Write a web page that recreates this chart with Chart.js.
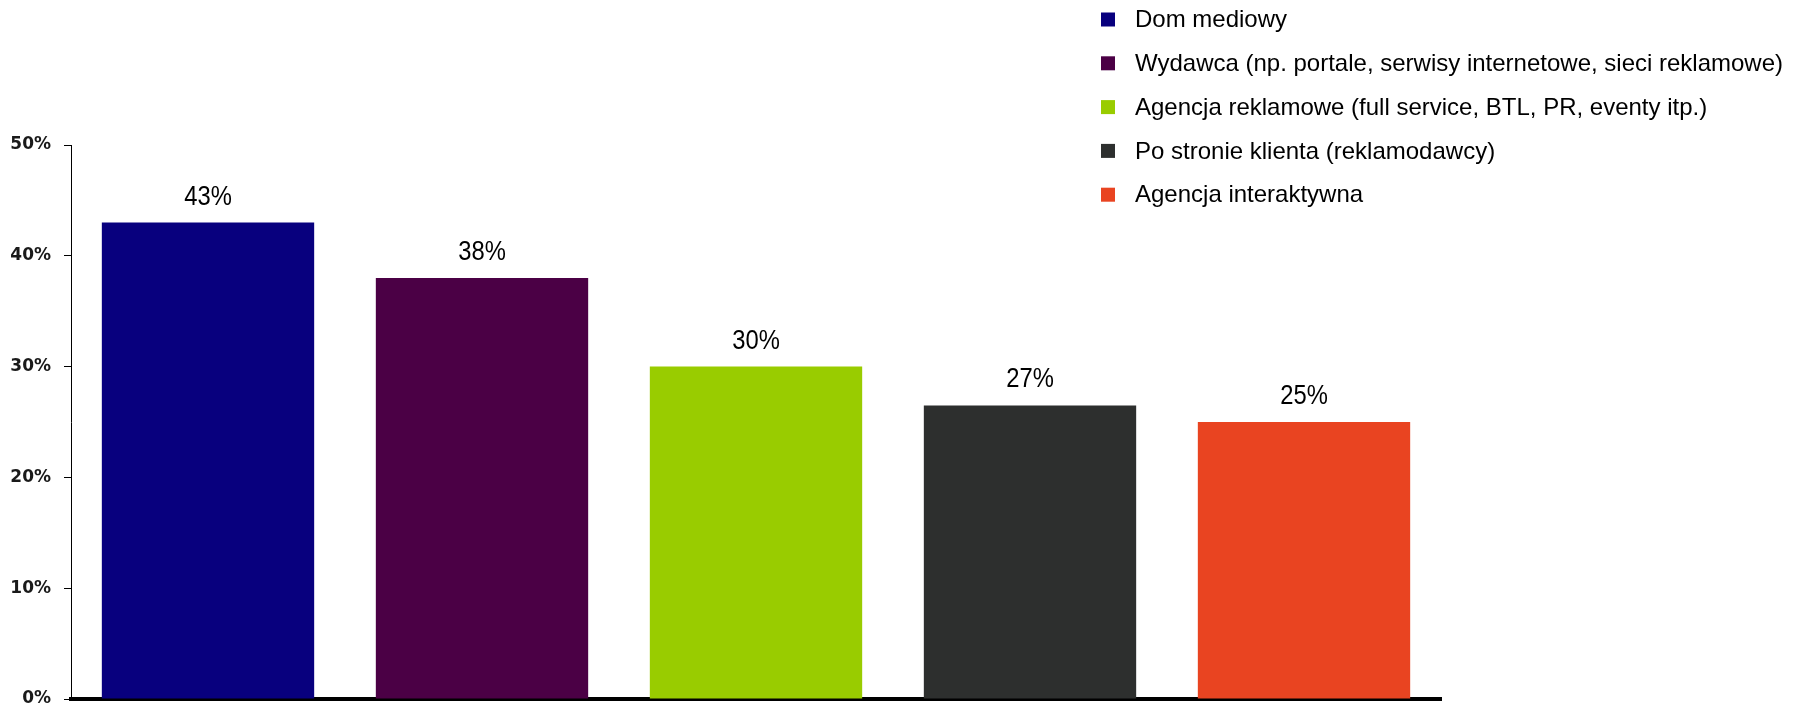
<!DOCTYPE html>
<html>
<head>
<meta charset="utf-8">
<script src="https://cdn.jsdelivr.net/npm/chart.js@4.4.0/dist/chart.umd.min.js"></script>
<style>
  body { margin: 0; background: #fff; }
  canvas { display: block; }
</style>
</head>
<body>
<canvas id="chart" width="1796" height="708"></canvas>
<script>
  // categories (also used as legend entries)
  const categories = [
    "Dom mediowy",
    "Wydawca (np. portale, serwisy internetowe, sieci reklamowe)",
    "Agencja reklamowe (full service, BTL, PR, eventy itp.)",
    "Po stronie klienta (reklamodawcy)",
    "Agencja interaktywna",
  ];
  const values = [43, 38, 30, 26.5, 25];
  const barColors = ["#08007E", "#4B0045", "#99CC00", "#2D2F2E", "#E94421"];
  const yTicks = [0, 10, 20, 30, 40, 50];

  // value labels above bars (narrowed a bit, the original font is condensed)
  const valueLabels = {
    id: "valueLabels",
    afterDatasetsDraw(chart) {
      const ctx = chart.ctx;
      const meta = chart.getDatasetMeta(0);
      const squeeze = 0.85;
      ctx.save();
      ctx.font = "28px 'Liberation Sans', Arial, sans-serif";
      ctx.fillStyle = "#000";
      ctx.textAlign = "center";
      ctx.textBaseline = "alphabetic";
      meta.data.forEach((bar, i) => {
        ctx.save();
        ctx.translate(bar.x, bar.y - 18);
        ctx.scale(squeeze, 1);
        ctx.fillText(Math.round(values[i]) + "%", 0, 0);
        ctx.restore();
      });
      ctx.restore();
    },
  };

  // legend in the top right corner, one row per category
  const sideLegend = {
    id: "sideLegend",
    afterDraw(chart) {
      const ctx = chart.ctx;
      const x0 = 1101;
      const y0 = 19.5;
      const rowGap = 43.8;
      ctx.save();
      ctx.font = "24px 'Liberation Sans', Arial, sans-serif";
      ctx.textBaseline = "middle";
      ctx.textAlign = "left";
      categories.forEach((name, i) => {
        const y = y0 + i * rowGap;
        ctx.fillStyle = barColors[i];
        ctx.fillRect(x0, y - 7, 14, 14);
        ctx.fillStyle = "#000";
        ctx.fillText(name, x0 + 34, y + 1);
      });
      ctx.restore();
    },
  };

  new Chart(document.getElementById("chart"), {
    type: "bar",
    data: {
      labels: categories,
      datasets: [
        {
          data: values,
          backgroundColor: barColors,
          borderWidth: 0,
          barPercentage: 0.775,
          categoryPercentage: 1,
        },
      ],
    },
    options: {
      responsive: false,
      animation: false,
      devicePixelRatio: 1,
      layout: {
        padding: { left: 8, right: 355, top: 145, bottom: 9 },
      },
      plugins: {
        legend: { display: false },
        tooltip: { enabled: false },
      },
      scales: {
        x: {
          ticks: { display: false },
          grid: { display: false },
          border: { display: true, color: "#000", width: 4 },
          afterFit(scale) {
            scale.height = 0;
          },
        },
        y: {
          min: 0,
          max: 50,
          afterBuildTicks(scale) {
            scale.ticks = yTicks.map((v) => ({ value: v }));
          },
          ticks: {
            padding: 13,
            color: "#1a1a1a",
            font: { family: "'DejaVu Sans', Verdana, sans-serif", size: 17, weight: "bold" },
            callback: (v) => v + "%",
          },
          grid: {
            drawOnChartArea: false,
            drawTicks: true,
            tickLength: 7,
            color: "#000",
          },
          border: { display: true, color: "#000", width: 1 },
          afterFit(scale) {
            scale.width = 63;
            scale.paddingTop = 0;
            scale.paddingBottom = 0;
          },
        },
      },
    },
    plugins: [valueLabels, sideLegend],
  });
</script>
</body>
</html>
